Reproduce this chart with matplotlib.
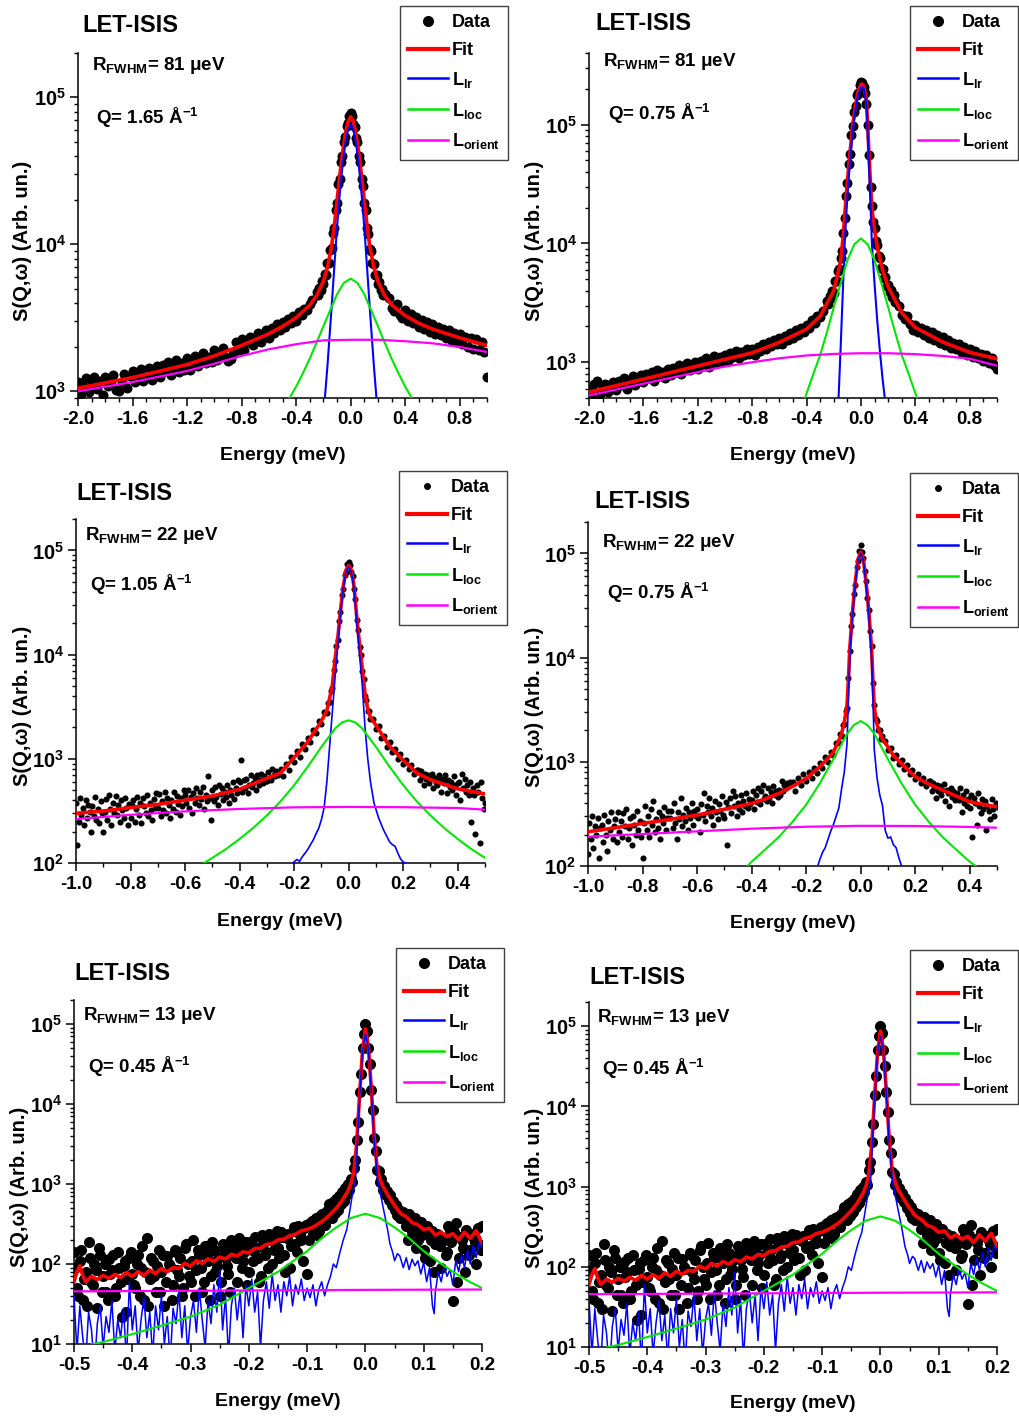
import numpy as np
import matplotlib
matplotlib.use('Agg')
import matplotlib.pyplot as plt
from matplotlib.ticker import LogLocator, MultipleLocator, FixedLocator, FuncFormatter, NullFormatter
from matplotlib.lines import Line2D

# ---------------- DATA ----------------
# Panel 1 : Q = 1.65, R = 81 ueV
p12_data_x = np.r_[np.linspace(-2.0, -0.28, 87), np.linspace(-0.25, 0.25, 51), np.linspace(0.28, 1.0, 37)]
p1_data_y = [1150, 960, 1080, 1230, 990, 1120, 1250, 1030, 1180, 940,
             1260, 1080, 1180, 1300, 1020, 1000, 1150, 1320, 1050, 1270,
             1380, 1150, 1300, 1420, 1180, 1250, 1440, 1200, 1330, 1480,
             1260, 1500, 1380, 1580, 1300, 1450, 1620, 1350, 1550, 1400,
             1680, 1400, 1600, 1750, 1480, 1640, 1820, 1560, 1720, 1590,
             1900, 1620, 1820, 1980, 1700, 1600, 1650, 1780, 2150, 1900,
             2250, 1920, 2150, 2350, 2050, 2280, 2480, 2150, 2400, 2600,
             2300, 2700, 2500, 2850, 2600, 2950, 2750, 3100, 2900, 3250,
             3000, 3450, 3300, 3650, 3550, 3950, 4200,
             4700, 4500, 5050, 4900, 5600, 5400, 6300, 6200, 7400, 7500,
             9100, 9400, 12000, 13000, 17000, 19000, 25500, 28000, 36500, 40000,
             50000, 54000, 64000, 67000, 75000, 78000, 74000, 66000, 63000, 53000,
             50000, 40000, 36000, 28000, 25000, 19000, 17000, 13000, 11800, 9300,
             9000, 7500, 7300, 6200, 6200, 5400, 5500, 4900, 5000, 4500, 4600,
             4300, 3700, 3500, 3900, 3300, 3150, 3550, 3000, 3350, 2900,
             3200, 2750, 3050, 2650, 2950, 2550, 2850, 2450, 2750, 2400,
             2650, 2300, 2600, 2200, 2500, 2150, 2450, 2100, 2350, 2000,
             2300, 1950, 2250, 1900, 2150, 1850, 1250]
p1_fit_x = [-2.0, -1.8, -1.6, -1.4, -1.2, -1.0, -0.8, -0.6, -0.5, -0.4, -0.3, -0.25, -0.2, -0.17, -0.14,
            -0.12, -0.1, -0.08, -0.06, -0.04, -0.02, 0.0, 0.02, 0.04, 0.06, 0.08, 0.1, 0.12, 0.14, 0.17,
            0.2, 0.25, 0.3, 0.4, 0.5, 0.6, 0.8, 1.0]
p1_fit_y = [1050, 1140, 1240, 1370, 1520, 1740, 2050, 2460, 2760, 3165, 3850, 4470, 5600, 7000, 9700,
            13400, 19800, 29200, 41500, 55800, 68000, 73600, 68000, 55800, 41500, 29200, 19800, 13400, 9700, 7000,
            5600, 4470, 3870, 3270, 2900, 2650, 2310, 2050]
p1_lr_x = [-0.21, -0.19, -0.17, -0.14, -0.12, -0.1, -0.08, -0.06, -0.04, -0.02, 0.0,
           0.02, 0.04, 0.06, 0.08, 0.1, 0.12, 0.14, 0.17, 0.19, 0.21]
p1_lr_y = [520, 880, 1500, 3700, 7000, 13000, 22000, 34000, 48000, 60000, 65500,
           60000, 48000, 34000, 22000, 13000, 7000, 3700, 1500, 880, 520]
p1_loc_x = [-0.5, -0.45, -0.4, -0.35, -0.3, -0.25, -0.2, -0.15, -0.1, -0.05, 0.0,
            0.05, 0.1, 0.15, 0.2, 0.25, 0.3, 0.35, 0.4, 0.45, 0.5]
p1_loc_y = [740, 895, 1075, 1330, 1670, 2140, 2770, 3560, 4570, 5460, 5840,
            5460, 4570, 3560, 2770, 2140, 1670, 1330, 1075, 895, 740]
p1_or_x = [-2.0, -1.8, -1.6, -1.4, -1.2, -1.0, -0.8, -0.6, -0.4, -0.2, 0.0, 0.2, 0.4, 0.6, 0.8, 1.0]
p1_or_y = [1000, 1075, 1155, 1260, 1375, 1540, 1740, 1930, 2090, 2220, 2240, 2240, 2190, 2120, 2000, 1850]

# Panel 2 : Q = 0.75, R = 81 ueV
p2_data_y = [600, 520, 650, 700, 540, 610, 660, 560, 620, 680,
             580, 700, 640, 740, 600, 690, 760, 640, 720, 780,
             680, 800, 740, 830, 700, 860, 760, 820, 740, 880,
             780, 900, 830, 950, 800, 920, 980, 860, 940, 1000,
             880, 1020, 960, 1080, 920, 1050, 1120, 980, 1100, 1000,
             1150, 1020, 1200, 1100, 1250, 1080, 1230, 1150, 1300, 1180,
             1300, 1150, 1350, 1250, 1420, 1300, 1480, 1380, 1530, 1420,
             1600, 1420, 1650, 1550, 1750, 1600, 1850, 1700, 1950, 1800,
             2050, 1950, 2250, 2150, 2450, 2400, 2700,
             3300, 3100, 3600, 3450, 4000, 3800, 4800, 4800, 5900, 6100,
             7500, 8700, 12300, 16500, 25000, 32000, 47000, 57000, 82000, 97000,
             128000, 142000, 176000, 186000, 215000, 230000, 225000, 205000, 185000, 150000,
             100000, 55000, 30000, 20500, 15000, 13500, 10500, 9700, 7900, 7600,
             6200, 6100, 5100, 5200, 4400, 4500, 3900, 4050, 3550, 3650, 3200,
             2950, 2500, 2300, 2450, 2100, 1850, 2050, 1800, 1950, 1700,
             1850, 1600, 1780, 1550, 1700, 1450, 1620, 1400, 1550, 1330,
             1450, 1280, 1420, 1200, 1350, 1150, 1300, 1100, 1250, 1080,
             1180, 1030, 1150, 980, 1080, 950, 880]
p2_fit_x = [-2.0, -1.6, -1.2, -0.8, -0.6, -0.4, -0.3, -0.2, -0.15, -0.13, -0.12, -0.1, -0.08, -0.06, -0.04,
            -0.02, 0.0, 0.01, 0.02, 0.04, 0.05, 0.06, 0.07, 0.08, 0.1, 0.12, 0.14, 0.16, 0.2, 0.3,
            0.4, 0.6, 0.8, 1.0]
p2_fit_y = [560, 720, 930, 1200, 1470, 1900, 2440, 4000, 7070, 11700, 17200, 33400, 59700, 100600, 146500,
            192000, 217000, 219000, 212000, 161000, 95000, 52500, 31000, 19700, 12900, 9300, 7300, 5900, 4300, 2600,
            1960, 1480, 1210, 1070]
p2_lr_x = [-0.18, -0.165, -0.15, -0.13, -0.12, -0.1, -0.08, -0.06, -0.04, -0.02, 0.0, 0.01, 0.02,
           0.04, 0.06, 0.07, 0.08, 0.1, 0.12, 0.14, 0.16, 0.175, 0.19]
p2_lr_y = [300, 500, 1300, 5000, 10000, 25000, 50000, 90000, 135000, 180000, 205000, 207000, 200000,
           150000, 42000, 21000, 10000, 4500, 2200, 1200, 700, 500, 350]
p2_loc_x = [-0.45, -0.41, -0.35, -0.3, -0.25, -0.2, -0.15, -0.1, -0.05, 0.0,
            0.05, 0.1, 0.15, 0.2, 0.25, 0.3, 0.35, 0.41, 0.45]
p2_loc_y = [420, 508, 800, 1150, 1800, 2900, 4600, 7200, 9800, 11000,
            9800, 7200, 4600, 2900, 1800, 1150, 800, 508, 420]
p2_or_x = [-2.0, -1.6, -1.2, -1.0, -0.8, -0.6, -0.4, -0.2, 0.0, 0.2, 0.4, 0.6, 0.8, 1.0]
p2_or_y = [525, 660, 825, 920, 1000, 1080, 1140, 1175, 1190, 1190, 1170, 1130, 1070, 935]

# Panel 3 : Q = 1.05, R = 22 ueV
p34_data_x = np.r_[np.linspace(-1.0, -0.26, 149), np.linspace(-0.25, -0.09, 17), np.linspace(-0.08, 0.08, 33),
                   np.linspace(0.09, 0.25, 17), np.linspace(0.255, 0.5, 50)]
p3_data_y = [380, 150, 250, 420, 290, 340, 230, 400, 270, 360,
             310, 200, 350, 280, 430, 260, 330, 240, 390, 300,
             200, 310, 410, 260, 450, 330, 230, 380, 300, 440,
             290, 360, 250, 400, 320, 270, 420, 340, 230, 370,
             270, 360, 400, 250, 330, 430, 290, 380, 240, 420,
             350, 300, 450, 280, 380, 320, 260, 410, 340, 470,
             340, 460, 280, 390, 320, 480, 300, 420, 360, 270,
             400, 330, 480, 310, 440, 370, 290, 420, 350, 500,
             450, 380, 500, 340, 430, 300, 470, 380, 520, 420,
             360, 480, 410, 540, 330, 450, 390, 690, 420, 260,
             500, 390, 540, 430, 360, 560, 460, 520, 400, 480,
             430, 560, 380, 500, 450, 600, 410, 530, 470, 620,
             600, 980, 480, 620, 520, 640, 470, 560, 700, 540,
             580, 650, 500, 700, 560, 620, 720, 590, 680, 610,
             610, 750, 660, 620, 800, 700, 680, 760, 700,
             800, 680, 900, 780, 1050, 930, 1200, 1050, 1400, 1250, 1600, 1450, 1900, 1750, 2300, 2150, 2800,
             2750, 3450, 3500, 4500, 4800, 7100, 8600, 12200, 13800, 21000, 25500, 37000, 43000, 58000, 62000,
             74000, 78000, 73000, 62000, 57000, 43000, 34500, 21500, 17200, 11800, 10000, 7000, 5800, 4000,
             3700, 2850, 2850, 2400,
             2400, 1950, 2050, 1600, 1650, 1300, 1450, 1150, 1250, 1000, 1100, 900, 980, 800, 870, 720, 780,
             780, 620, 760, 690, 560, 720, 640, 700, 580, 660,
             720, 520, 660, 600, 560, 700, 620, 480, 640, 580,
             700, 470, 620, 540, 600, 500, 680, 560, 450, 580,
             600, 400, 720, 520, 640, 480, 560, 450, 600, 250,
             520, 450, 190, 560, 480, 155, 600, 420, 330, 380]
p3_fit_x = [-1.0, -0.9, -0.8, -0.7, -0.6, -0.5, -0.4, -0.3, -0.25, -0.2, -0.15, -0.1, -0.08, -0.06, -0.05,
            -0.04, -0.03, -0.02, -0.01, 0.0, 0.01, 0.02, 0.03, 0.04, 0.05, 0.06, 0.07, 0.08, 0.1, 0.15,
            0.2, 0.25, 0.3, 0.4, 0.5]
p3_fit_y = [300, 315, 340, 365, 400, 440, 510, 650, 730, 1030, 1450, 2300, 2900, 5000, 9000,
            14400, 26500, 44600, 64600, 71700, 64600, 44600, 22500, 12400, 7300, 4200, 3000, 2500, 2100, 1320,
            970, 730, 630, 515, 460]
p3_lr_x = [-0.21, -0.205, -0.19, -0.18, -0.17, -0.16, -0.15, -0.14, -0.13, -0.12,
           -0.11, -0.1, -0.09, -0.08, -0.07, -0.06, -0.05, -0.04, -0.03, -0.02,
           -0.01, 0.0, 0.01, 0.02, 0.03, 0.04, 0.05, 0.06, 0.07, 0.08,
           0.093, 0.11, 0.127, 0.14, 0.15, 0.16, 0.17, 0.18, 0.19, 0.2, 0.21, 0.22]
p3_lr_y = [95, 100, 108, 104, 115, 124, 135, 150, 166, 190,
           215, 260, 340, 600, 1300, 2800, 6000, 12000, 24000, 42000,
           62000, 69000, 62000, 42000, 20000, 10000, 5000, 2000, 1000, 600,
           375, 270, 210, 180, 160, 150, 145, 125, 110, 102, 100, 96]
p3_loc_x = [-0.53, -0.5, -0.45, -0.4, -0.35, -0.3, -0.25, -0.2, -0.15, -0.1, -0.05, -0.025, 0.0,
            0.025, 0.05, 0.1, 0.15, 0.2, 0.25, 0.3, 0.35, 0.4, 0.45, 0.5]
p3_loc_y = [100, 112, 136, 170, 217, 286, 390, 558, 840, 1300, 1950, 2230, 2340,
            2230, 1950, 1300, 840, 558, 390, 286, 217, 170, 136, 112]
p3_or_x = [-1.0, -0.8, -0.6, -0.4, -0.2, 0.0, 0.2, 0.4, 0.5]
p3_or_y = [264, 290, 313, 330, 342, 345, 343, 337, 325]

# Panel 4 : Q = 0.75, R = 22 ueV
p4_data_y = [130, 260, 180, 300, 150, 240, 200, 290, 120, 230,
             250, 170, 310, 200, 140, 270, 220, 330, 180, 240,
             280, 170, 330, 210, 270, 190, 320, 240, 350, 180,
             230, 290, 160, 300, 250, 200, 340, 220, 270, 190,
             120, 260, 380, 220, 300, 190, 350, 250, 420, 210,
             280, 230, 330, 180, 300, 260, 370, 220, 290, 340,
             290, 340, 230, 400, 260, 180, 330, 280, 450, 240,
             310, 270, 360, 220, 330, 290, 400, 250, 340, 300,
             350, 290, 210, 390, 310, 500, 270, 380, 330, 450,
             300, 360, 250, 420, 330, 280, 390, 340, 470, 310,
             290, 410, 160, 370, 450, 320, 520, 380, 470, 300,
             400, 350, 480, 330, 420, 380, 500, 360, 440, 390,
             430, 530, 350, 480, 410, 560, 390, 520, 600, 440,
             470, 420, 560, 450, 510, 400, 580, 480, 530, 460,
             540, 480, 650, 520, 600, 560, 620, 580, 640,
             640, 530, 700, 600, 760, 650, 800, 700, 880, 780, 980, 870, 1100, 1000, 1250, 1150, 1500,
             1500, 1850, 1750, 2250, 2300, 3100, 3300, 6400, 11500, 20000, 26000, 41000, 50000, 74000, 84000,
             105000, 120000, 103000, 90000, 68000, 54000, 37000, 28500, 18000, 12800, 5700, 3500, 2600, 2450,
             2000, 2000, 1650, 1750,
             1600, 1300, 1350, 1080, 1150, 950, 1050, 850, 930, 760, 830, 680, 760, 630, 700, 590, 660,
             650, 520, 620, 560, 450, 600, 520, 580, 480, 540,
             610, 420, 540, 500, 380, 560, 460, 520, 430, 480,
             500, 430, 560, 330, 480, 400, 520, 380, 440, 360,
             480, 190, 450, 400, 250, 500, 380, 320, 440, 350,
             420, 220, 380, 340, 280, 440, 350, 300, 400, 370]
p4_fit_x = [-1.0, -0.9, -0.8, -0.7, -0.6, -0.5, -0.4, -0.35, -0.3, -0.25, -0.2, -0.15, -0.12, -0.1, -0.08,
            -0.07, -0.06, -0.05, -0.045, -0.04, -0.03, -0.02, -0.01, 0.0, 0.01, 0.02, 0.03, 0.04, 0.045, 0.05,
            0.06, 0.07, 0.08, 0.1, 0.12, 0.15, 0.2, 0.25, 0.3, 0.35, 0.4, 0.45, 0.5]
p4_fit_y = [213, 233, 256, 280, 308, 350, 398, 440, 497, 580, 690, 895, 1080, 1240, 1600,
            1860, 2400, 3500, 6000, 12200, 27400, 52300, 87400, 102700, 87400, 52300, 27400, 12200, 6000, 3300,
            2300, 1900, 1650, 1390, 1150, 960, 720, 610, 535, 470, 413, 390, 370]
p4_lr_x = [-0.16, -0.15, -0.14, -0.13, -0.12, -0.11, -0.1, -0.09, -0.08, -0.07,
           -0.06, -0.05, -0.045, -0.04, -0.03, -0.02, -0.01, 0.0, 0.01, 0.02,
           0.03, 0.04, 0.045, 0.05, 0.06, 0.07, 0.08, 0.09, 0.1, 0.11,
           0.12, 0.13, 0.14, 0.15, 0.16]
p4_lr_y = [95, 115, 135, 150, 180, 215, 250, 300, 360, 550,
           800, 1500, 4000, 10000, 25000, 50000, 85000, 100000, 85000, 50000,
           25000, 10000, 4000, 1300, 700, 480, 380, 220, 185, 190,
           160, 150, 120, 100, 95]
p4_loc_x = [-0.45, -0.42, -0.4, -0.35, -0.3, -0.25, -0.2, -0.15, -0.1, -0.05, -0.025, 0.0,
            0.025, 0.05, 0.1, 0.15, 0.2, 0.25, 0.3, 0.35, 0.4, 0.43, 0.45]
p4_loc_y = [87, 97, 110, 144, 190, 265, 387, 620, 1060, 1850, 2250, 2460,
            2250, 1850, 1060, 620, 387, 265, 190, 144, 110, 97, 87]
p4_or_x = [-1.0, -0.8, -0.6, -0.4, -0.2, 0.0, 0.2, 0.4, 0.5]
p4_or_y = [191, 203, 215, 228, 238, 243, 242, 237, 233]

# Panels 5 and 6 : Q = 0.45, R = 13 ueV (same measurement shown twice)
p5_data_x = np.r_[np.linspace(-0.5, -0.065, 88), np.linspace(-0.4975, -0.0625, 88),
                  np.linspace(-0.06, 0.06, 49), np.linspace(0.065, 0.2, 28), np.linspace(0.0675, 0.1975, 27)]
p5_data_y = [140, 50, 110, 35, 80, 190, 60, 100, 28, 130,
             70, 45, 115, 85, 40, 140, 60, 95, 25, 120,
             75, 50, 130, 90, 35, 210, 65, 110, 45, 150,
             80, 30, 125, 95, 55, 140, 70, 40, 160, 100,
             60, 200, 85, 130, 45, 170, 110, 70, 150, 95,
             40, 180, 120, 75, 200, 140, 60, 160, 110, 190,
             80, 150, 220, 120, 70, 180, 140, 240, 100, 200,
             160, 250, 130, 210, 90, 260, 180, 300, 200, 280,
             75, 330, 240, 380, 260, 420, 310, 480,
             90, 40, 150, 65, 30, 120, 55, 85, 160, 45,
             100, 35, 75, 130, 50, 90, 22, 110, 65, 140,
             55, 100, 40, 170, 80, 30, 120, 70, 95, 45,
             130, 60, 100, 35, 150, 85, 120, 50, 180, 70,
             110, 40, 150, 90, 60, 130, 35, 190, 80, 120,
             60, 150, 95, 45, 170, 120, 210, 90, 140, 55,
             190, 110, 160, 60, 230, 130, 90, 200, 150, 260,
             120, 220, 80, 240, 170, 290, 140, 230, 110, 310,
             200, 350, 280, 230, 400, 340, 450, 560,
             520, 380, 600, 430, 650, 480, 700, 560, 800, 620,
             900, 720, 1000, 850, 1150, 1050, 1600, 2000, 3600, 6000,
             14000, 24000, 50000, 75000, 100000, 82000, 50000, 32000, 15000, 8500,
             3800, 2600, 1500, 1450, 1050, 1150, 850, 950, 720, 820,
             640, 720, 540, 620, 470, 550, 410, 480, 380,
             450, 300, 420, 250, 380, 200, 340, 150, 300, 110,
             260, 180, 230, 90, 200, 140, 260, 34, 330, 120,
             200, 80, 240, 150, 220, 100, 180, 300,
             380, 200, 330, 260, 160, 290, 230, 120, 270, 200,
             80, 240, 170, 210, 130, 300, 190, 250, 60, 220,
             160, 270, 130, 240, 190, 280, 150]
p5_fit_x = [-0.5, -0.495, -0.49, -0.485, -0.48, -0.47, -0.46, -0.45, -0.44, -0.43,
            -0.42, -0.41, -0.4, -0.39, -0.38, -0.37, -0.36, -0.35, -0.34, -0.33,
            -0.32, -0.31, -0.3, -0.29, -0.28, -0.27, -0.26, -0.25, -0.24, -0.23,
            -0.22, -0.21, -0.2, -0.19, -0.18, -0.17, -0.16, -0.15, -0.14, -0.13,
            -0.12, -0.11, -0.1, -0.09, -0.08, -0.07, -0.06, -0.05, -0.04, -0.03,
            -0.025, -0.02, -0.015, -0.01, -0.005, 0.0, 0.005, 0.01, 0.015, 0.02,
            0.025, 0.03, 0.04, 0.05, 0.06, 0.07, 0.08, 0.09, 0.1, 0.11,
            0.12, 0.13, 0.14, 0.15, 0.16, 0.17, 0.18, 0.19, 0.195, 0.2]
p5_fit_y = [60, 80, 95, 72, 60, 70, 64, 72, 66, 74,
            68, 78, 70, 80, 72, 84, 76, 88, 80, 90,
            88, 102, 94, 110, 102, 116, 108, 122, 116, 132,
            126, 142, 138, 156, 158, 176, 180, 200, 205, 225,
            235, 260, 270, 290, 320, 360, 420, 500, 620, 820,
            1000, 1400, 3200, 13000, 46000, 87000, 52000, 16000, 4000, 1600,
            1150, 930, 700, 540, 430, 390, 330, 310, 270, 280,
            230, 250, 220, 240, 200, 250, 210, 260, 220, 180]
p5_lr_x = np.r_[np.linspace(-0.5, -0.065, 88),
                [-0.06, -0.055, -0.05, -0.044, -0.038, -0.032, -0.027, -0.023, -0.017, -0.01,
                 -0.005, 0.0, 0.005, 0.01, 0.015, 0.021, 0.025, 0.03, 0.034, 0.038,
                 0.042, 0.047, 0.05, 0.055, 0.059, 0.065, 0.07, 0.075, 0.08, 0.085,
                 0.09, 0.095, 0.1, 0.105, 0.11, 0.115, 0.118, 0.12, 0.125, 0.13,
                 0.135, 0.14, 0.145, 0.15, 0.155, 0.16, 0.165, 0.17, 0.175, 0.18,
                 0.185, 0.19, 0.195, 0.2]]
p5_lr_y = [40, 8, 30, 12, 6, 25, 15, 5, 18, 30,
           9, 22, 14, 35, 8, 20, 12, 28, 6, 60,
           15, 30, 8, 20, 38, 12, 25, 7, 30, 15,
           40, 10, 22, 6, 28, 18, 45, 12, 30, 8,
           22, 35, 14, 50, 20, 9, 35, 18, 55, 25,
           85, 15, 40, 7, 30, 50, 20, 45, 12, 55,
           30, 65, 25, 45, 9, 35, 60, 28, 75, 35,
           55, 25, 60, 40, 70, 30, 55, 42, 65, 35,
           50, 38, 55, 30, 48, 60, 40, 55,
           70, 100, 90, 138, 200, 270, 450, 690, 1120, 12000,
           45000, 76000, 50000, 15000, 3500, 1120, 800, 520, 380, 270,
           180, 138, 110, 135, 126, 90, 120, 85, 115, 95,
           110, 75, 105, 60, 90, 30, 24, 45, 80, 60,
           95, 70, 85, 55, 110, 80, 130, 90, 150, 100,
           170, 120, 184, 160]
p5_loc_x = [-0.47, -0.45, -0.4, -0.35, -0.3, -0.25, -0.2, -0.15, -0.1, -0.075, -0.05, -0.025, 0.0,
            0.025, 0.05, 0.075, 0.1, 0.125, 0.15, 0.175, 0.2]
p5_loc_y = [9.9, 10.6, 13.3, 17, 22, 31, 50, 80, 145, 210, 287, 376, 425,
            376, 287, 210, 145, 107, 80, 62, 50]
p5_or_x = [-0.5, -0.25, 0.0, 0.2]
p5_or_y = [45.5, 46.5, 47.5, 48.0]

# Axis ticks / labels
xt_wide = [-2.0, -1.6, -1.2, -0.8, -0.4, 0.0, 0.4, 0.8]
xt_mid = [-1.0, -0.8, -0.6, -0.4, -0.2, 0.0, 0.2, 0.4]
xt_narrow = [-0.5, -0.4, -0.3, -0.2, -0.1, 0.0, 0.1, 0.2]
q_texts = ['1.65', '0.75', '1.05', '0.75', '0.45', '0.45']
r_texts = ['81', '81', '22', '22', '13', '13']
legend_labels = ['Data', 'Fit', r'L$_{\mathrm{lr}}$', r'L$_{\mathrm{loc}}$', r'L$_{\mathrm{orient}}$']

# ---------------- STYLE ----------------
plt.rcParams['font.family'] = ['Liberation Sans', 'DejaVu Sans']
plt.rcParams['font.weight'] = 'bold'
plt.rcParams['mathtext.fontset'] = 'custom'
plt.rcParams['mathtext.rm'] = 'Liberation Sans'
plt.rcParams['mathtext.bf'] = 'Liberation Sans:bold'
plt.rcParams['mathtext.it'] = 'Liberation Sans:italic'
plt.rcParams['mathtext.sf'] = 'Liberation Sans'
plt.rcParams['axes.unicode_minus'] = False

W, H = 1019, 1418
fig = plt.figure(figsize=(W / 100, H / 100), dpi=100)

RED, BLUE, GREEN, MAG = '#ff0000', '#0000ff', '#00e600', '#ff00ff'


def fx(px):
    return px / W


def fy(py):
    return 1 - py / H


panels = [
    dict(box=(78, 487, 53, 398), xlim=(-2.0, 1.0), ylim=(900, 2e5), xt=xt_wide, xminor=0.1, ms=7.2,
         d=(p12_data_x, p1_data_y), fit=(p1_fit_x, p1_fit_y), lr=(p1_lr_x, p1_lr_y),
         loc=(p1_loc_x, p1_loc_y), ori=(p1_or_x, p1_or_y), lw_lr=1.5,
         title=(82, 25), rt=(92, 66), qt=(96, 118), ylab=(23, 241), xlab=(283, 456), leg=(508, 6), lms=8),
    dict(box=(589, 997, 53, 398), xlim=(-2.0, 1.0), ylim=(500, 4e5), xt=xt_wide, xminor=0.1, ms=7.2,
         d=(p12_data_x, p2_data_y), fit=(p2_fit_x, p2_fit_y), lr=(p2_lr_x, p2_lr_y),
         loc=(p2_loc_x, p2_loc_y), ori=(p2_or_x, p2_or_y), lw_lr=1.5,
         title=(595, 23), rt=(603, 62), qt=(608, 114), ylab=(534, 241), xlab=(793, 456), leg=(1018, 6), lms=8),
    dict(box=(76, 485, 519, 863), xlim=(-1.0, 0.5), ylim=(100, 2e5), xt=xt_mid, xminor=0.1, ms=4.4,
         d=(p34_data_x, p3_data_y), fit=(p3_fit_x, p3_fit_y), lr=(p3_lr_x, p3_lr_y),
         loc=(p3_loc_x, p3_loc_y), ori=(p3_or_x, p3_or_y), lw_lr=1.2,
         title=(76, 494), rt=(85, 535), qt=(90, 585), ylab=(23, 706), xlab=(280, 922), leg=(507, 471), lms=5),
    dict(box=(588, 997, 522, 866), xlim=(-1.0, 0.5), ylim=(100, 2e5), xt=xt_mid, xminor=0.1, ms=4.4,
         d=(p34_data_x, p4_data_y), fit=(p4_fit_x, p4_fit_y), lr=(p4_lr_x, p4_lr_y),
         loc=(p4_loc_x, p4_loc_y), ori=(p4_or_x, p4_or_y), lw_lr=1.2,
         title=(594, 502), rt=(602, 542), qt=(607, 593), ylab=(534, 707), xlab=(793, 923), leg=(1018, 473), lms=5),
    dict(box=(74, 482, 1000, 1344), xlim=(-0.5, 0.2), ylim=(10, 2e5), xt=xt_narrow, xminor=0.05, ms=8.0,
         d=(p5_data_x, p5_data_y), fit=(p5_fit_x, p5_fit_y), lr=(p5_lr_x, p5_lr_y),
         loc=(p5_loc_x, p5_loc_y), ori=(p5_or_x, p5_or_y), lw_lr=1.1,
         title=(74, 973), rt=(83, 1015), qt=(88, 1067), ylab=(20, 1187), xlab=(278, 1402), leg=(504, 948), lms=8),
    dict(box=(589, 997, 1002, 1347), xlim=(-0.5, 0.2), ylim=(10, 2e5), xt=xt_narrow, xminor=0.05, ms=8.0,
         d=(p5_data_x, p5_data_y), fit=(p5_fit_x, p5_fit_y), lr=(p5_lr_x, p5_lr_y),
         loc=(p5_loc_x, p5_loc_y), ori=(p5_or_x, p5_or_y), lw_lr=1.1,
         title=(589, 977), rt=(597, 1018), qt=(602, 1069), ylab=(534, 1188), xlab=(793, 1403), leg=(1018, 950), lms=8),
]

for i, p in enumerate(panels):
    l, r, t, b = p['box']
    ax = fig.add_axes([fx(l), fy(b), (r - l) / W, (b - t) / H])
    ax.set_yscale('log')
    ax.plot(p['d'][0], p['d'][1], 'o', color='black', ms=p['ms'], mew=0, zorder=2)
    ax.plot(p['fit'][0], p['fit'][1], color=RED, lw=2.6, zorder=3)
    ax.plot(p['lr'][0], p['lr'][1], color=BLUE, lw=p['lw_lr'], zorder=4)
    ax.plot(p['loc'][0], p['loc'][1], color=GREEN, lw=1.5, zorder=4)
    ax.plot(p['ori'][0], p['ori'][1], color=MAG, lw=1.6, zorder=5)
    ax.set_xlim(*p['xlim'])
    ax.set_ylim(*p['ylim'])
    for s in ('top', 'right'):
        ax.spines[s].set_visible(False)
    for s in ('left', 'bottom'):
        ax.spines[s].set_linewidth(1.1)
    ax.xaxis.set_major_locator(FixedLocator(p['xt']))
    ax.xaxis.set_minor_locator(MultipleLocator(p['xminor']))
    ax.xaxis.set_major_formatter(FuncFormatter(lambda v, pos: '%.1f' % (0.0 if abs(v) < 1e-9 else v)))
    ax.yaxis.set_major_locator(LogLocator(base=10, numticks=12))
    ax.yaxis.set_minor_locator(LogLocator(base=10, subs=np.arange(2, 10), numticks=12))
    ax.yaxis.set_minor_formatter(NullFormatter())
    ax.yaxis.set_major_formatter(FuncFormatter(
        lambda v, pos: r'$\mathbf{10}^{%d}$' % int(round(np.log10(v)))))
    ax.tick_params(axis='both', which='major', direction='out', length=5.5, width=1.1, pad=3)
    ax.tick_params(axis='x', which='major', labelsize=13.5, pad=4)
    ax.tick_params(axis='y', which='major', labelsize=14.5)
    ax.tick_params(axis='both', which='minor', direction='out', length=3, width=1.0)

    fig.text(fx(p['title'][0]), fy(p['title'][1]), 'LET-ISIS', fontsize=17, ha='left', va='center')
    fig.text(fx(p['rt'][0]), fy(p['rt'][1]), 'R$_{\\mathrm{FWHM}}$= ' + r_texts[i] + ' \u03bceV',
             fontsize=13.5, ha='left', va='center')
    fig.text(fx(p['qt'][0]), fy(p['qt'][1]), 'Q= ' + q_texts[i] + ' \u00c5$^{\\mathrm{-1}}$',
             fontsize=13.5, ha='left', va='center')
    fig.text(fx(p['ylab'][0]), fy(p['ylab'][1]), 'S(Q,\u03c9) (Arb. un.)', fontsize=14.5,
             rotation=90, ha='center', va='center')
    fig.text(fx(p['xlab'][0]), fy(p['xlab'][1]), 'Energy (meV)', fontsize=14,
             ha='center', va='center')

    handles = [Line2D([], [], ls='none', marker='o', color='black', ms=p['lms'], mew=0),
               Line2D([], [], color=RED, lw=3.0),
               Line2D([], [], color=BLUE, lw=1.8),
               Line2D([], [], color=GREEN, lw=1.8),
               Line2D([], [], color=MAG, lw=1.8)]
    leg = ax.legend(handles, legend_labels, loc='upper right',
                    bbox_to_anchor=(fx(p['leg'][0]), fy(p['leg'][1])),
                    bbox_transform=fig.transFigure, borderaxespad=0, fancybox=False, framealpha=1,
                    edgecolor='#404040', fontsize=13, handlelength=2.2, handletextpad=0.2,
                    labelspacing=0.6, borderpad=0.45, numpoints=1)
    leg.get_frame().set_linewidth(1.0)

fig.savefig('out.png', dpi=100)
